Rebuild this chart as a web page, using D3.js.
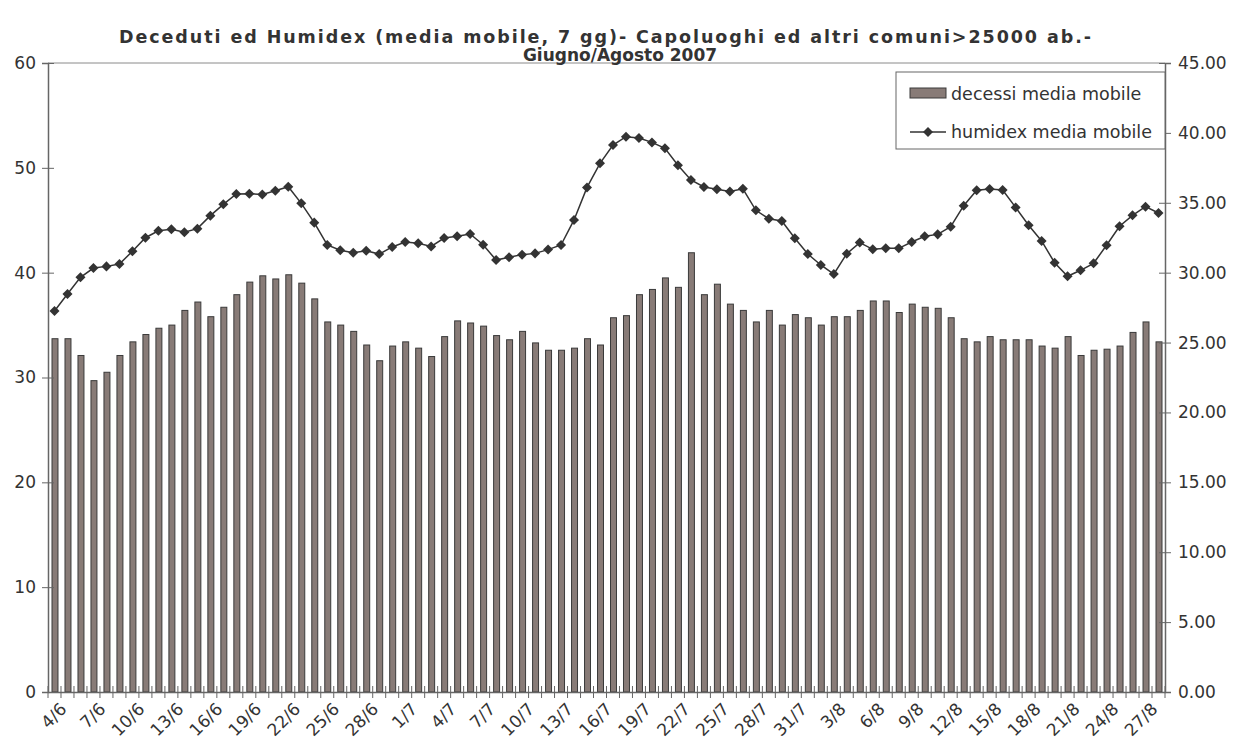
<!DOCTYPE html>
<html>
<head>
<meta charset="utf-8">
<script src="https://cdn.jsdelivr.net/npm/d3@7"></script>
<style>
  body { margin: 0; background: #fff; }
  svg { font-family: "DejaVu Sans", Verdana, sans-serif; }
</style>
</head>
<body>
<svg id="chart"></svg>
<script>
var w = 1239;
var h = 749;

// categories (giorno/mese)
var dates = ["4/6","5/6","6/6","7/6","8/6","9/6","10/6","11/6","12/6","13/6","14/6","15/6","16/6","17/6","18/6","19/6","20/6","21/6","22/6","23/6","24/6","25/6","26/6","27/6","28/6","29/6","30/6",
  "1/7","2/7","3/7","4/7","5/7","6/7","7/7","8/7","9/7","10/7","11/7","12/7","13/7","14/7","15/7","16/7","17/7","18/7","19/7","20/7","21/7","22/7","23/7","24/7","25/7","26/7","27/7","28/7","29/7","30/7","31/7",
  "1/8","2/8","3/8","4/8","5/8","6/8","7/8","8/8","9/8","10/8","11/8","12/8","13/8","14/8","15/8","16/8","17/8","18/8","19/8","20/8","21/8","22/8","23/8","24/8","25/8","26/8","27/8","28/8"];

// decessi media mobile (left axis)
var decessi = [33.7,33.7,32.1,29.7,30.5,32.1,33.4,34.1,34.7,35.0,36.4,37.2,35.8,36.7,37.9,39.1,39.7,39.4,39.8,39.0,37.5,35.3,
  35.0,34.4,33.1,31.6,33.0,33.4,32.8,32.0,33.9,35.4,35.2,34.9,34.0,33.6,34.4,33.3,32.6,32.6,32.8,33.7,33.1,35.7,35.9,
  37.9,38.4,39.5,38.6,41.9,37.9,38.9,37.0,36.4,35.3,36.4,35.0,36.0,35.7,35.0,35.8,35.8,36.4,37.3,37.3,36.2,37.0,
  36.7,36.6,35.7,33.7,33.4,33.9,33.6,33.6,33.6,33.0,32.8,33.9,32.1,32.6,32.7,33.0,34.3,35.3,33.4];

// humidex media mobile (right axis)
var humidex = [27.26,28.47,29.67,30.33,30.45,30.62,31.53,32.50,33.00,33.10,32.89,33.15,34.08,34.89,35.63,35.65,35.60,35.86,36.15,34.96,33.58,31.98,
  31.60,31.43,31.57,31.33,31.84,32.19,32.10,31.88,32.48,32.60,32.77,32.00,30.90,31.10,31.29,31.38,31.65,31.98,33.77,36.10,37.82,39.13,39.73,
  39.63,39.32,38.90,37.68,36.63,36.13,35.96,35.80,36.00,34.46,33.86,33.70,32.46,31.33,30.55,29.90,31.36,32.15,31.67,31.74,31.74,32.19,
  32.60,32.74,33.29,34.79,35.90,35.98,35.91,34.67,33.39,32.27,30.71,29.74,30.17,30.67,31.96,33.32,34.10,34.72,34.27];

var leftTicks = [0, 10, 20, 30, 40, 50, 60];
var rightTicks = [0, 5, 10, 15, 20, 25, 30, 35, 40, 45];
var titleLines = ["Deceduti ed Humidex (media mobile, 7 gg)- Capoluoghi ed altri comuni>25000 ab.-", "Giugno/Agosto 2007"];
var seriesNames = ["decessi media mobile", "humidex media mobile"];

var margin = { top: 63, right: 74, bottom: 57, left: 48 };
var iw = w - margin.left - margin.right;
var ih = h - margin.top - margin.bottom;

var svg = d3.select("#chart").attr("width", w).attr("height", h);
var g = svg.append("g").attr("transform", `translate(${margin.left},${margin.top})`);

var x = d3.scaleBand().domain(dates).range([0, iw]).paddingInner(0.54).paddingOuter(0.27);
var xc = d3.scaleBand().domain(dates).range([0, iw]);
var yL = d3.scaleLinear().domain([0, 60]).range([ih, 0]);
var yR = d3.scaleLinear().domain([0, 45]).range([ih, 0]);

var axisColor = "#666";
var textColor = "#333";

// top border
g.append("line").attr("x1", 0).attr("x2", iw).attr("y1", 0).attr("y2", 0)
  .attr("stroke", "#8a8a8a").attr("stroke-width", 1);

// bars
g.selectAll("rect.bar")
  .data(decessi)
  .enter()
  .append("rect")
  .attr("class", "bar")
  .attr("x", (d, i) => x(dates[i]) + 0.5)
  .attr("y", d => yL(d))
  .attr("width", x.bandwidth())
  .attr("height", d => yL(0) - yL(d))
  .attr("fill", "#887b77")
  .attr("stroke", "#3a3a3a")
  .attr("stroke-width", 1);

// left axis
var axL = g.append("g").call(d3.axisLeft(yL).tickValues(leftTicks).tickSize(6).tickPadding(6));
axL.selectAll(".tick line").attr("x2", 6).attr("x1", -6);
// right axis
var axR = g.append("g").attr("transform", `translate(${iw},0)`)
  .call(d3.axisRight(yR).tickValues(rightTicks).tickSize(6).tickPadding(7).tickFormat(d3.format(".2f")));
axR.selectAll(".tick line").attr("x1", -6).attr("x2", 6);
// x axis
var axX = g.append("g").attr("transform", `translate(0,${ih})`)
  .call(d3.axisBottom(xc).tickValues([]).tickSizeOuter(0));
axX.selectAll(".boundary")
  .data(d3.range(dates.length + 1))
  .enter()
  .append("line")
  .attr("class", "boundary")
  .attr("x1", i => i * xc.step())
  .attr("x2", i => i * xc.step())
  .attr("y1", -6).attr("y2", 6)
  .attr("stroke", axisColor);

[axL, axR, axX].forEach(a => {
  a.select(".domain").attr("stroke", axisColor).attr("stroke-width", 1.5);
  a.selectAll(".tick line").attr("stroke", axisColor);
  a.selectAll(".tick text").attr("fill", textColor).style("font-size", "17px")
    .style("font-family", '"DejaVu Sans", Verdana, sans-serif');
});

// x labels every 3 days
g.append("g").selectAll("text")
  .data(dates.filter((d, i) => i % 3 === 0))
  .enter()
  .append("text")
  .attr("transform", d => `translate(${xc(d) + xc.bandwidth() / 2 + 9},${ih + 14}) rotate(-45)`)
  .attr("text-anchor", "end")
  .attr("dy", "0.35em")
  .attr("fill", textColor)
  .style("font-size", "17px")
  .text(d => d);

// humidex line
var line = d3.line()
  .x((d, i) => xc(dates[i]) + xc.bandwidth() / 2)
  .y(d => yR(d));
g.append("path")
  .datum(humidex)
  .attr("d", line)
  .attr("fill", "none")
  .attr("stroke", "#333")
  .attr("stroke-width", 1.5);
var diamond = d3.symbol().type(d3.symbolDiamond2).size(64);
g.selectAll("path.pt")
  .data(humidex)
  .enter()
  .append("path")
  .attr("class", "pt")
  .attr("d", diamond)
  .attr("transform", (d, i) => `translate(${xc(dates[i]) + xc.bandwidth() / 2},${yR(d)})`)
  .attr("fill", "#333");

// title
svg.append("g").selectAll("text")
  .data(titleLines)
  .enter()
  .append("text")
  .attr("x", (d, i) => i === 0 ? 605 : 620)
  .attr("y", (d, i) => 43 + i * 18)
  .attr("text-anchor", "middle")
  .attr("fill", textColor)
  .attr("textLength", (d, i) => i === 0 ? 972 : null)
  .attr("lengthAdjust", "spacing")
  .style("font-size", (d, i) => i === 0 ? "17.5px" : "17px")
  .style("font-weight", "bold")
  .text(d => d);

// legend
var lg = svg.append("g").attr("transform", "translate(896,72)");
lg.append("rect").attr("width", 269).attr("height", 77)
  .attr("fill", "#fff").attr("stroke", "#666").attr("stroke-width", 1);
lg.append("rect").attr("x", 14).attr("y", 16).attr("width", 36).attr("height", 10)
  .attr("fill", "#887b77").attr("stroke", "#3a3a3a");
lg.append("line").attr("x1", 14).attr("x2", 50).attr("y1", 60).attr("y2", 60)
  .attr("stroke", "#333").attr("stroke-width", 1.5);
lg.append("path").attr("d", diamond).attr("transform", "translate(32,60)").attr("fill", "#333");
lg.selectAll("text.lt")
  .data(seriesNames)
  .enter()
  .append("text")
  .attr("class", "lt")
  .attr("x", 55)
  .attr("y", (d, i) => 22 + i * 38)
  .attr("dy", "0.35em")
  .attr("fill", textColor)
  .style("font-size", "17.5px")
  .text(d => d);
</script>
</body>
</html>
